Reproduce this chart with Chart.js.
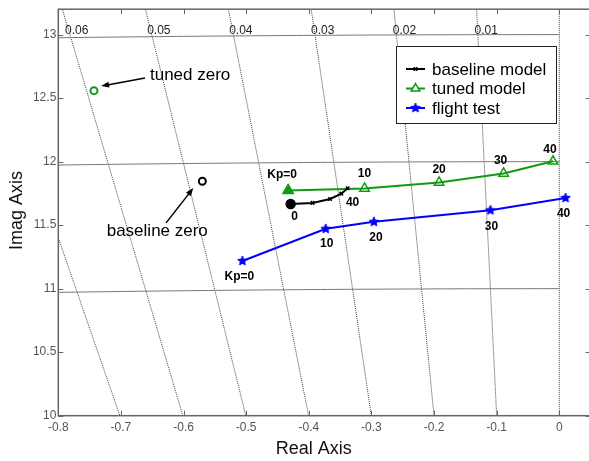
<!DOCTYPE html>
<html>
<head>
<meta charset="utf-8">
<script src="https://cdn.jsdelivr.net/npm/chart.js@4.4.1/dist/chart.umd.min.js"></script>
<style>
  html, body { margin: 0; padding: 0; background: #fff; overflow: hidden; }
  #wrap { width: 600px; height: 461px; }
</style>
</head>
<body>
<div id="wrap"><canvas id="rlocus" width="600" height="461"></canvas></div>
<script>
// gain steps along each locus
const baselineTags = ['0', '', '', '', '40'];
const tunedTags = ['Kp=0', '10', '20', '30', '40'];
const flightTags = ['Kp=0', '10', '20', '30', '40'];

// closed loop pole, real / imag part
const baselineRe = [-0.429, -0.394, -0.366, -0.348, -0.338];
const baselineIm = [11.667, 11.675, 11.706, 11.748, 11.790];
const tunedRe = [-0.433, -0.311, -0.192, -0.089, -0.010];
const tunedIm = [11.773, 11.789, 11.836, 11.907, 12.003];
const flightRe = [-0.506, -0.373, -0.296, -0.110, 0.010];
const flightIm = [11.218, 11.471, 11.526, 11.617, 11.714];

// zeros (tuned, baseline)
const zeroRe = [-0.743, -0.570];
const zeroIm = [12.559, 11.846];

// axis ticks
const xTicks = [-0.8, -0.7, -0.6, -0.5, -0.4, -0.3, -0.2, -0.1, 0];
const yTicks = [10, 10.5, 11, 11.5, 12, 12.5, 13];

// sgrid : damping ratio rays and natural frequency arcs
const zetaLines = [0, 0.01, 0.02, 0.03, 0.04, 0.05, 0.06, 0.07, 0.08];
const zetaTagged = [0.01, 0.02, 0.03, 0.04, 0.05, 0.06];
const wnArcs = [11, 12, 13];

const FONT = "'Liberation Sans', Arial, Helvetica, sans-serif";
const GREEN = '#109a10';
const BLUE = '#0000ff';

const toPts = (re, im) => re.map((x, i) => ({ x: x, y: im[i] }));

function starImage(color, r) {
  const c = document.createElement('canvas');
  const s = Math.ceil(r * 2 + 2);
  c.width = c.height = s;
  const g = c.getContext('2d');
  g.beginPath();
  for (let i = 0; i < 10; i++) {
    const rr = i % 2 ? r * 0.45 : r;
    const a = -Math.PI / 2 + i * Math.PI / 5;
    g.lineTo(s / 2 + rr * Math.cos(a), s / 2 + rr * Math.sin(a));
  }
  g.closePath();
  g.fillStyle = color;
  g.fill();
  g.strokeStyle = color;
  g.lineWidth = 1;
  g.stroke();
  return c;
}
const star = starImage(BLUE, 5);

// dotted s-plane grid, under the data
const sgridPlugin = {
  id: 'sgrid',
  beforeDatasetsDraw(chart) {
    const ctx = chart.ctx, a = chart.chartArea;
    const xs = chart.scales.x, ys = chart.scales.y;
    ctx.save();
    ctx.beginPath();
    ctx.rect(a.left, a.top, a.right - a.left, a.bottom - a.top);
    ctx.clip();
    // damping rays
    ctx.strokeStyle = '#444';
    ctx.lineWidth = 1;
    ctx.setLineDash([1, 1]);
    zetaLines.forEach(z => {
      const k = z / Math.sqrt(1 - z * z);
      ctx.beginPath();
      ctx.moveTo(xs.getPixelForValue(-k * 9.5), ys.getPixelForValue(9.5));
      ctx.lineTo(xs.getPixelForValue(-k * 14), ys.getPixelForValue(14));
      ctx.stroke();
    });
    // wn arcs
    ctx.strokeStyle = '#777';
    ctx.setLineDash([]);
    wnArcs.forEach(wn => {
      ctx.beginPath();
      for (let re = -0.9; re <= 0.0001; re += 0.01) {
        const px = xs.getPixelForValue(re), py = ys.getPixelForValue(Math.sqrt(wn * wn - re * re));
        if (re === -0.9) ctx.moveTo(px, py); else ctx.lineTo(px, py);
      }
      ctx.stroke();
    });
    ctx.restore();

    // zeta labels near the top
    ctx.save();
    ctx.font = '12px ' + FONT;
    ctx.fillStyle = '#222';
    ctx.textBaseline = 'middle';
    ctx.textAlign = 'left';
    zetaTagged.forEach(z => {
      const k = z / Math.sqrt(1 - z * z);
      const px = xs.getPixelForValue(-k * 13.05);
      ctx.fillText(String(z), px - 3, ys.getPixelForValue(13.03));
    });
    ctx.restore();
  }
};

function arrow(ctx, x1, y1, x2, y2) {
  const ang = Math.atan2(y2 - y1, x2 - x1);
  const L = 8, W = 3;
  ctx.beginPath();
  ctx.moveTo(x1, y1);
  ctx.lineTo(x2 - L * Math.cos(ang) * 0.8, y2 - L * Math.sin(ang) * 0.8);
  ctx.stroke();
  ctx.beginPath();
  ctx.moveTo(x2, y2);
  ctx.lineTo(x2 - L * Math.cos(ang) + W * Math.sin(ang), y2 - L * Math.sin(ang) - W * Math.cos(ang));
  ctx.lineTo(x2 - L * Math.cos(ang) - W * Math.sin(ang), y2 - L * Math.sin(ang) + W * Math.cos(ang));
  ctx.closePath();
  ctx.fill();
}

// frame, ticks, titles, legend, point tags and notes
const overlayPlugin = {
  id: 'overlay',
  afterDraw(chart) {
    const ctx = chart.ctx, a = chart.chartArea;
    const xs = chart.scales.x, ys = chart.scales.y;
    ctx.save();

    // frame with inward ticks
    ctx.strokeStyle = '#666';
    ctx.lineWidth = 1.5;
    ctx.strokeRect(a.left, a.top, a.right - a.left, a.bottom - a.top);
    ctx.lineWidth = 1;
    ctx.beginPath();
    xTicks.forEach(v => {
      const px = Math.round(xs.getPixelForValue(v)) + 0.5;
      ctx.moveTo(px, a.bottom); ctx.lineTo(px, a.bottom - 5);
      ctx.moveTo(px, a.top); ctx.lineTo(px, a.top + 5);
    });
    yTicks.forEach(v => {
      const py = Math.round(ys.getPixelForValue(v)) + 0.5;
      ctx.moveTo(a.left, py); ctx.lineTo(a.left + 5, py);
      ctx.moveTo(a.right, py); ctx.lineTo(a.right - 5, py);
    });
    ctx.stroke();

    // axis titles
    ctx.fillStyle = '#111';
    ctx.font = '18px ' + FONT;
    ctx.textAlign = 'center';
    ctx.textBaseline = 'middle';
    ctx.fillText('Real Axis', xs.getPixelForValue(-0.392), 449);
    ctx.save();
    ctx.translate(17, (a.top + a.bottom) / 2 - 2);
    ctx.rotate(-Math.PI / 2);
    ctx.fillText('Imag Axis', 0, 0);
    ctx.restore();

    // point tags
    ctx.font = 'bold 12px ' + FONT;
    ctx.fillStyle = '#000';
    const tagSets = [
      { ds: 0, tags: baselineTags, off: [[4, 13], [0, 0], [0, 0], [0, 0], [5, 14]] },
      { ds: 1, tags: tunedTags, off: [[-6, -16], [0, -15], [0, -13], [-3, -13], [-3, -12]] },
      { ds: 2, tags: flightTags, off: [[-3, 16], [1, 15], [2, 16], [1, 16], [-2, 16]] }
    ];
    tagSets.forEach(s => {
      const meta = chart.getDatasetMeta(s.ds);
      meta.data.forEach((pt, i) => {
        if (!s.tags[i]) return;
        ctx.fillText(s.tags[i], pt.x + s.off[i][0], pt.y + s.off[i][1]);
      });
    });

    // notes on the zeros
    ctx.font = '17px ' + FONT;
    ctx.textAlign = 'left';
    ctx.fillText('tuned zero', xs.getPixelForValue(-0.6536), ys.getPixelForValue(12.68));
    ctx.fillText('baseline zero', xs.getPixelForValue(-0.7227), ys.getPixelForValue(11.453));
    ctx.strokeStyle = '#000';
    ctx.lineWidth = 1.5;
    arrow(ctx, xs.getPixelForValue(-0.6615), ys.getPixelForValue(12.658),
      xs.getPixelForValue(-0.7317), ys.getPixelForValue(12.595));
    arrow(ctx, xs.getPixelForValue(-0.6279), ys.getPixelForValue(11.518),
      xs.getPixelForValue(-0.5844), ys.getPixelForValue(11.792));

    // legend box
    const bx = 396.5, by = 46.5, bw = 160, bh = 77;
    ctx.fillStyle = '#fff';
    ctx.fillRect(bx, by, bw, bh);
    ctx.strokeStyle = '#222';
    ctx.lineWidth = 1;
    ctx.strokeRect(bx, by, bw, bh);
    const rows = [69, 88.5, 108];
    const legendMarks = [
      { pointStyle: 'crossRot', radius: 2.5, rotation: 0, borderWidth: 1.5, fill: '#000' },
      { pointStyle: 'triangle', radius: 5, rotation: 0, borderWidth: 1.5, fill: '#fff' },
      { pointStyle: star, radius: 5, rotation: 0, borderWidth: 1.5, fill: BLUE }
    ];
    chart.data.datasets.slice(0, 3).forEach((d, i) => {
      const y = rows[i];
      ctx.strokeStyle = d.borderColor;
      ctx.lineWidth = 2;
      ctx.beginPath();
      ctx.moveTo(406, y); ctx.lineTo(425, y);
      ctx.stroke();
      ctx.fillStyle = legendMarks[i].fill;
      ctx.lineWidth = 1.5;
      Chart.helpers.drawPoint(ctx, legendMarks[i], 415.5, y);
      ctx.fillStyle = '#000';
      ctx.font = '17px ' + FONT;
      ctx.textAlign = 'left';
      ctx.textBaseline = 'middle';
      ctx.fillText(d.label, 432, y + 1);
    });

    ctx.restore();
  }
};

const tickFont = { family: FONT, size: 12 };
const plainNum = v => String(Math.round(v * 100) / 100);

new Chart(document.getElementById('rlocus'), {
  type: 'scatter',
  data: {
    datasets: [
      {
        label: 'baseline model',
        data: toPts(baselineRe, baselineIm),
        showLine: true,
        borderColor: '#000',
        borderWidth: 2,
        pointStyle: ['circle', 'crossRot', 'crossRot', 'crossRot', 'crossRot'],
        pointRadius: [4.5, 2.5, 2.5, 2.5, 2.5],
        pointBackgroundColor: '#000',
        pointBorderColor: '#000',
        pointBorderWidth: 1.5
      },
      {
        label: 'tuned model',
        data: toPts(tunedRe, tunedIm),
        showLine: true,
        borderColor: GREEN,
        borderWidth: 2,
        pointStyle: 'triangle',
        pointRadius: [6, 5.5, 5.5, 5.5, 5.5],
        pointBackgroundColor: [GREEN, 'rgba(0,0,0,0)', 'rgba(0,0,0,0)', 'rgba(0,0,0,0)', 'rgba(0,0,0,0)'],
        pointBorderColor: GREEN,
        pointBorderWidth: 1.5
      },
      {
        label: 'flight test',
        data: toPts(flightRe, flightIm),
        showLine: true,
        borderColor: BLUE,
        borderWidth: 2,
        pointStyle: star,
        pointRadius: 5,
        pointBackgroundColor: BLUE,
        pointBorderColor: BLUE
      },
      {
        label: 'zeros',
        data: toPts(zeroRe, zeroIm),
        showLine: false,
        pointStyle: 'circle',
        pointRadius: 3.5,
        pointBackgroundColor: 'rgba(0,0,0,0)',
        pointBorderColor: [GREEN, '#000'],
        pointBorderWidth: 2
      }
    ]
  },
  options: {
    responsive: false,
    devicePixelRatio: 1,
    animation: false,
    events: [],
    layout: { padding: { top: 7, right: 9.4, left: 0, bottom: 0 } },
    plugins: { legend: { display: false }, tooltip: { enabled: false } },
    scales: {
      x: {
        type: 'linear',
        min: -0.8,
        max: 0.05,
        afterBuildTicks: s => { s.ticks = xTicks.map(v => ({ value: v })); },
        afterFit: s => { s.height = 45.3; },
        grid: { display: false, drawTicks: false },
        border: { display: false },
        ticks: { color: '#555', font: tickFont, padding: 5, callback: plainNum }
      },
      y: {
        type: 'linear',
        min: 10,
        max: 13.2,
        afterBuildTicks: s => { s.ticks = yTicks.map(v => ({ value: v })); },
        afterFit: s => { s.width = 58.3; },
        grid: { display: false, drawTicks: false },
        border: { display: false },
        ticks: { color: '#555', font: tickFont, padding: 2, callback: plainNum }
      }
    }
  },
  plugins: [sgridPlugin, overlayPlugin]
});
</script>
</body>
</html>
